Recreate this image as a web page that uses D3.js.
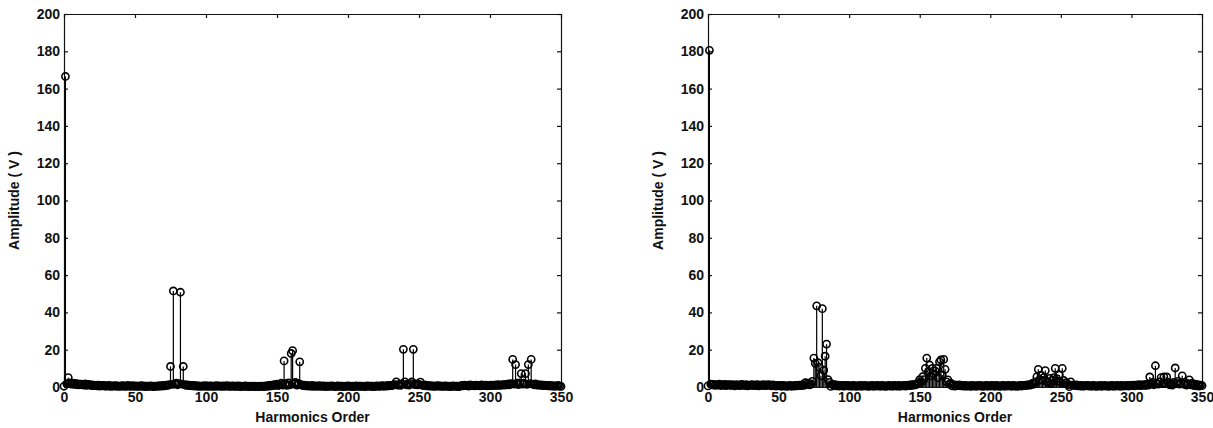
<!DOCTYPE html>
<html>
<head>
<meta charset="utf-8">
<script src="https://cdn.jsdelivr.net/npm/d3@7"></script>
<style>
  html, body { margin: 0; padding: 0; background: #fff; }
  svg { display: block; }
  .tick text { font-family: "Liberation Sans", Arial, sans-serif; font-size: 14px; font-weight: bold; fill: #111; }
  .label { font-family: "Liberation Sans", Arial, sans-serif; font-size: 14px; font-weight: bold; fill: #111; }
</style>
</head>
<body>
<svg class="chart"></svg>
<script>
var width = 1213,
    height = 428;

// harmonic orders 0..350 on the x axis
var xTicks = [0, 50, 100, 150, 200, 250, 300, 350];
var yTicks = [0, 20, 40, 60, 80, 100, 120, 140, 160, 180, 200];

// left panel amplitudes (V), harmonic 0..350
var ampLeft = [
  0.4, 166.5, 1.8, 5.0, 2.2, 1.6, 2.0, 1.4, 1.9, 1.2,
  1.7, 1.1, 1.5, 1.3, 1.0, 1.6, 0.9, 1.4, 1.2, 0.8,
  1.1, 0.7, 0.9, 0.6, 1.0, 0.5, 0.8, 0.6, 0.9, 0.4,
  0.7, 0.5, 0.8, 0.3, 0.6, 0.5, 0.7, 0.4, 0.6, 0.3,
  0.5, 0.7, 0.4, 0.6, 0.3, 0.8, 0.5, 0.4, 0.7, 0.3,
  0.6, 0.4, 0.5, 0.3, 0.7, 0.4, 0.6, 0.2, 0.5, 0.4,
  0.3, 0.6, 0.4, 0.2, 0.5, 0.3, 0.6, 0.4, 0.7, 0.5,
  0.8, 0.6, 1.0, 0.9, 1.2, 11.0, 1.4, 51.5, 1.6, 2.0,
  1.2, 1.8, 50.8, 1.5, 11.0, 1.3, 0.9, 1.1, 0.7, 0.9,
  0.6, 0.8, 0.5, 0.7, 0.4, 0.6, 0.3, 0.5, 0.6, 0.4,
  0.7, 0.3, 0.5, 0.6, 0.4, 0.5, 0.3, 0.7, 0.4, 0.6,
  0.5, 0.3, 0.6, 0.4, 0.5, 0.7, 0.3, 0.5, 0.4, 0.6,
  0.3, 0.5, 0.4, 0.6, 0.2, 0.5, 0.3, 0.4, 0.6, 0.3,
  0.2, 0.4, 0.3, 0.5, 0.2, 0.4, 0.3, 0.2, 0.5, 0.3,
  0.4, 0.2, 0.6, 0.3, 0.8, 0.5, 1.0, 0.7, 1.2, 0.9,
  1.5, 0.8, 1.2, 2.0, 1.0, 14.0, 1.8, 0.9, 2.2, 1.1,
  18.0, 19.5, 1.6, 2.4, 1.0, 1.9, 13.5, 1.2, 0.8, 1.0,
  0.6, 0.9, 0.5, 0.7, 0.4, 0.8, 0.3, 0.6, 0.5, 0.4,
  0.7, 0.3, 0.5, 0.6, 0.2, 0.5, 0.4, 0.3, 0.6, 0.4,
  0.5, 0.2, 0.4, 0.6, 0.3, 0.5, 0.4, 0.2, 0.5, 0.3,
  0.6, 0.4, 0.3, 0.5, 0.2, 0.4, 0.6, 0.3, 0.5, 0.4,
  0.3, 0.5, 0.2, 0.4, 0.6, 0.3, 0.5, 0.4, 0.2, 0.5,
  0.4, 0.6, 0.3, 0.5, 0.7, 0.4, 0.6, 0.5, 0.8, 0.6,
  0.9, 0.7, 1.1, 1.3, 2.8, 1.0, 1.4, 0.9, 1.6, 20.2,
  2.8, 1.2, 1.5, 1.0, 1.8, 2.8, 20.2, 1.3, 1.6, 1.1,
  1.4, 2.6, 1.0, 0.8, 1.1, 0.6, 0.9, 0.5, 0.7, 0.4,
  0.6, 0.3, 0.5, 0.7, 0.4, 0.6, 0.3, 0.5, 0.4, 0.6,
  0.3, 0.5, 0.2, 0.4, 0.6, 0.3, 0.5, 0.4, 0.2, 0.5,
  0.8, 0.6, 1.0, 0.7, 0.9, 0.5, 1.1, 0.7, 0.8, 0.6,
  1.0, 0.7, 0.9, 0.6, 1.1, 0.8, 0.7, 1.0, 0.6, 0.9,
  0.8, 1.0, 0.7, 0.9, 1.1, 0.8, 1.2, 0.9, 1.0, 1.3,
  1.0, 1.4, 1.1, 1.6, 1.2, 1.8, 14.8, 1.5, 12.0, 2.0,
  1.3, 2.2, 7.2, 1.6, 2.0, 7.2, 1.4, 12.0, 1.8, 14.8,
  1.5, 1.2, 1.6, 1.0, 1.3, 0.9, 1.1, 0.8, 1.0, 0.7,
  0.9, 0.6, 0.8, 0.5, 0.7, 0.4, 0.6, 0.5, 0.8, 0.4, 0.3
];

// right panel amplitudes (V), harmonic 0..350
var ampRight = [
  0.6, 180.5, 1.5, 1.1, 1.4, 0.9, 1.3, 1.0, 1.5, 0.8,
  1.2, 0.9, 1.4, 0.7, 1.1, 1.3, 0.8, 1.2, 1.0, 0.6,
  1.3, 0.9, 1.1, 0.7, 1.4, 1.0, 0.8, 1.2, 0.6, 1.0,
  0.9, 1.3, 0.7, 1.1, 0.8, 1.2, 0.6, 1.0, 0.9, 1.3,
  0.7, 1.1, 0.8, 1.2, 1.0, 0.6, 1.1, 0.9, 0.5, 0.8,
  0.6, 0.9, 0.4, 0.8, 0.5, 0.7, 0.3, 0.6, 0.8, 0.4,
  0.7, 0.5, 0.9, 0.6, 0.8, 1.0, 0.7, 1.2, 0.9, 2.3,
  1.4, 2.0, 1.1, 1.6, 3.0, 15.5, 12.7, 43.5, 13.0, 10.5,
  6.0, 42.0, 9.0, 16.5, 23.0, 4.0, 2.5, 0.3, 1.5, 0.8,
  1.2, 0.6, 1.0, 0.5, 0.9, 0.7, 0.4, 0.8, 0.6, 0.9,
  0.5, 0.7, 0.4, 0.8, 0.6, 0.3, 0.7, 0.5, 0.9, 0.4,
  0.6, 0.8, 0.5, 0.7, 0.3, 0.6, 0.9, 0.4, 0.7, 0.5,
  0.8, 0.6, 0.4, 0.9, 0.5, 0.7, 0.3, 0.6, 0.8, 0.5,
  0.7, 0.4, 0.9, 0.6, 0.5, 0.8, 0.4, 0.7, 0.6, 0.9,
  0.5, 0.8, 1.0, 0.7, 1.2, 0.9, 1.4, 1.1, 1.5, 2.5,
  4.0, 2.5, 5.5, 4.0, 10.0, 15.5, 8.0, 11.8, 6.0, 10.0,
  7.0, 8.5, 10.0, 5.0, 13.5, 14.5, 6.4, 14.8, 9.5, 2.8,
  3.8, 1.5, 2.0, 0.6, 1.2, 0.5, 1.0, 0.7, 1.1, 0.6,
  0.9, 0.5, 0.8, 0.4, 0.7, 0.6, 0.3, 0.8, 0.5, 0.7,
  0.4, 0.6, 0.9, 0.5, 0.7, 0.3, 0.6, 0.8, 0.4, 0.7,
  0.5, 0.8, 0.6, 0.4, 0.9, 0.5, 0.7, 0.3, 0.6, 0.8,
  0.4, 0.7, 0.5, 0.9, 0.6, 0.4, 0.8, 0.5, 0.7, 0.3,
  0.6, 0.8, 0.5, 0.9, 0.7, 1.0, 0.8, 1.3, 1.0, 1.2,
  2.0, 1.5, 2.8, 5.5, 9.5, 4.0, 6.4, 3.5, 5.0, 8.8,
  3.0, 2.5, 4.6, 2.0, 3.5, 5.0, 10.0, 4.5, 3.0, 6.4,
  2.5, 10.0, 3.5, 2.0, 2.3, 1.2, 0.2, 2.8, 1.0, 1.0,
  0.8, 1.1, 0.6, 0.9, 0.5, 0.8, 0.4, 0.7, 0.6, 0.9,
  0.5, 0.7, 0.4, 0.8, 0.6, 0.3, 0.7, 0.5, 0.9, 0.4,
  0.6, 0.8, 0.5, 0.7, 0.3, 0.6, 0.9, 0.4, 0.7, 0.5,
  0.8, 0.6, 0.4, 0.9, 0.5, 0.7, 0.6, 0.8, 0.5, 0.9,
  0.7, 1.0, 0.6, 0.9, 1.1, 0.8, 1.2, 0.7, 1.0, 1.3,
  0.8, 1.5, 1.0, 5.4, 1.5, 2.5, 1.2, 11.4, 2.0, 1.5,
  2.8, 5.0, 1.8, 5.4, 2.0, 5.4, 2.5, 1.2, 2.0, 1.0,
  2.5, 10.2, 1.8, 3.0, 1.5, 2.2, 6.0, 1.5, 2.5, 1.0,
  1.8, 3.8, 1.2, 2.0, 0.8, 1.5, 0.6, 1.2, 0.5, 1.0, 0.7
];

// plot box edges (window.top is taken, so prefix these)
var plotTop = 14,
    plotBottom = 387;

var svg = d3.select(".chart")
    .attr("width", width)
    .attr("height", height);

drawPanel(ampLeft, 64, 561);
drawPanel(ampRight, 708, 1202);

function drawPanel(amps, left, right) {
    let x = d3.scaleLinear().domain([0, 350]).range([left, right]);
    let y = d3.scaleLinear().domain([0, 200]).range([plotBottom, plotTop]);

    let g = svg.append("g");

    // box with inward ticks on all four sides
    g.append("g")
        .attr("transform", `translate(0,${plotBottom})`)
        .call(d3.axisBottom(x).tickValues(xTicks).tickSizeInner(-4).tickSizeOuter(0).tickPadding(5));
    g.append("g")
        .attr("transform", `translate(0,${plotTop})`)
        .call(d3.axisTop(x).tickValues(xTicks).tickSizeInner(-4).tickSizeOuter(0).tickFormat(""));
    g.append("g")
        .attr("transform", `translate(${left},0)`)
        .call(d3.axisLeft(y).tickValues(yTicks).tickSizeInner(-4).tickSizeOuter(0).tickPadding(4));
    g.append("g")
        .attr("transform", `translate(${right},0)`)
        .call(d3.axisRight(y).tickValues(yTicks).tickSizeInner(-4).tickSizeOuter(0).tickFormat(""));

    g.selectAll(".domain, .tick line")
        .attr("stroke", "#111")
        .attr("stroke-width", 1.2);

    let pts = amps.map((v, i) => ({h: i, v: v}));

    // stems
    g.append("g").selectAll("line")
        .data(pts)
        .enter().append("line")
            .attr("x1", (d) => x(d.h))
            .attr("x2", (d) => x(d.h))
            .attr("y1", y(0))
            .attr("y2", (d) => y(d.v))
            .attr("stroke", "#000")
            .attr("stroke-width", 1.2);

    // hollow circle markers
    g.append("g").selectAll("circle")
        .data(pts)
        .enter().append("circle")
            .attr("cx", (d) => x(d.h))
            .attr("cy", (d) => y(d.v))
            .attr("r", 3.6)
            .attr("fill", "none")
            .attr("stroke", "#000")
            .attr("stroke-width", 1.6);

    g.append("text")
        .attr("class", "label")
        .attr("x", (left + right) / 2)
        .attr("y", 422)
        .attr("text-anchor", "middle")
        .text("Harmonics Order");

    g.append("text")
        .attr("class", "label")
        .attr("transform", `translate(${left - 45},${(plotTop + plotBottom) / 2}) rotate(-90)`)
        .attr("text-anchor", "middle")
        .text("Amplitude ( V )");
}
</script>
</body>
</html>
